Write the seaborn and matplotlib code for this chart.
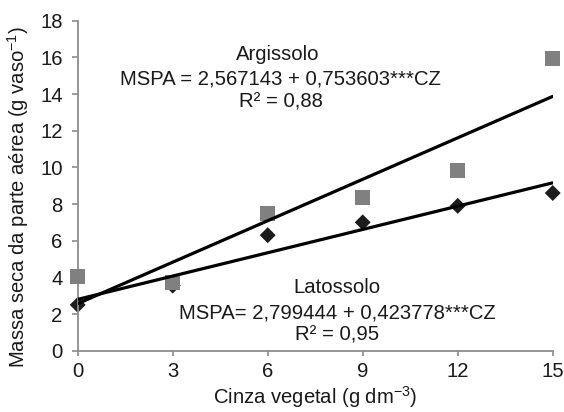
import matplotlib
matplotlib.use("Agg")
import matplotlib.pyplot as plt
import seaborn as sns
import numpy as np
import pandas as pd

# ---- data ----
doses = [0, 3, 6, 9, 12, 15]
argissolo = [4.05, 3.7, 7.5, 8.35, 9.85, 15.95]
latossolo = [2.5, 3.55, 6.3, 7.0, 7.9, 8.6]
arg_intercept, arg_slope = 2.567143, 0.753603
lat_intercept, lat_slope = 2.799444, 0.423778
x_ticks = [0, 3, 6, 9, 12, 15]
y_ticks = [0, 2, 4, 6, 8, 10, 12, 14, 16, 18]

sns.set_theme(style="white")
plt.rcParams['font.family'] = ['Liberation Sans', 'DejaVu Sans']
plt.rcParams['mathtext.default'] = 'regular'

FS = 14.6
fig = plt.figure(figsize=(5.64, 4.12), dpi=100)
ax = fig.add_axes([0.1378, 0.1488, 0.980 - 0.1378, 0.9498 - 0.1488])

pts = pd.DataFrame({"x": doses, "arg": argissolo, "lat": latossolo})
sns.scatterplot(data=pts, x="x", y="lat", marker="D", s=66, color="#1c1c1c",
                edgecolor="none", ax=ax, zorder=2, clip_on=False)
sns.scatterplot(data=pts, x="x", y="arg", marker="s", s=118, color="#808080",
                edgecolor="none", ax=ax, zorder=3, clip_on=False)

xline = np.array([doses[0], doses[-1]], dtype=float)
lines = pd.DataFrame({"x": xline,
                      "arg": arg_intercept + arg_slope * xline,
                      "lat": lat_intercept + lat_slope * xline})
sns.lineplot(data=lines, x="x", y="arg", color="black", lw=2.3, ax=ax, zorder=4)
sns.lineplot(data=lines, x="x", y="lat", color="black", lw=2.3, ax=ax, zorder=4)

ax.set_xlim(0, 15)
ax.set_ylim(0, 18)
ax.set_xticks(x_ticks)
ax.set_yticks(y_ticks)
ax.set_xticklabels([str(v) for v in x_ticks])
ax.set_yticklabels([str(v) for v in y_ticks])

for s in ["top", "right"]:
    ax.spines[s].set_visible(False)
for s in ["left", "bottom"]:
    ax.spines[s].set_color("#8c8c8c")
    ax.spines[s].set_linewidth(1.3)
ax.tick_params(axis="y", direction="out", length=4.3, width=1.2, color="#8c8c8c",
               pad=6.5, labelsize=FS, labelcolor="#1a1a1a", left=True)
ax.tick_params(axis="x", direction="out", length=3.5, width=1.2, color="#8c8c8c",
               pad=4.5, labelsize=FS, labelcolor="#1a1a1a", bottom=True)

ax.set_xlabel("Cinza vegetal (g dm$^{-3}$)", fontsize=FS, color="#1a1a1a", va="bottom")
ax.set_ylabel("Massa seca da parte aérea (g vaso$^{-1}$)", fontsize=FS, color="#1a1a1a")
ax.xaxis.set_label_coords(0.5, -0.18)
ax.yaxis.set_label_coords(-0.098, 0.466)

tc = "#1a1a1a"
ax.text(6.32, 16.13, "Argissolo", ha="center", va="center", fontsize=FS, color=tc)
ax.text(6.39, 14.82, "MSPA = 2,567143 + 0,753603***CZ", ha="center", va="center", fontsize=FS, color=tc)
ax.text(6.42, 13.57, "R² = 0,88", ha="center", va="center", fontsize=FS, color=tc)
ax.text(8.19, 3.42, "Latossolo", ha="center", va="center", fontsize=FS, color=tc)
ax.text(8.19, 2.06, "MSPA= 2,799444 + 0,423778***CZ", ha="center", va="center", fontsize=FS, color=tc)
ax.text(8.19, 0.86, "R² = 0,95", ha="center", va="center", fontsize=FS, color=tc)

fig.savefig("out.png", dpi=100)
